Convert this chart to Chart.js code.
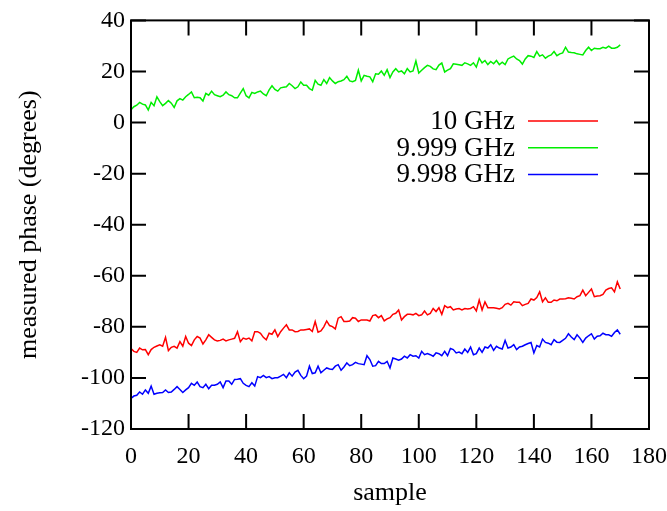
<!DOCTYPE html>
<html>
<head>
<meta charset="utf-8">
<script src="https://cdn.jsdelivr.net/npm/chart.js@4.4.1/dist/chart.umd.min.js"></script>
<style>
  html, body { margin: 0; padding: 0; background: #fff; }
  #wrap { width: 667px; height: 511px; }
</style>
</head>
<body>
<div id="wrap"><canvas id="phase-chart" width="667" height="511"></canvas></div>
<script>
// sample index 0..170 for every series
const samples = Array.from({ length: 171 }, (_, i) => i);

const phase10 = [
  -88.5, -89.6, -90.0, -88.3, -89.0, -88.9, -90.9, -88.9, -88.0, -87.5,
  -87.0, -87.6, -84.1, -89.3, -88.0, -87.6, -88.3, -85.8, -87.6, -83.8,
  -86.4, -87.3, -85.1, -83.8, -84.4, -86.7, -85.1, -83.1, -84.1, -85.1,
  -85.5, -85.3, -84.8, -85.5, -85.1, -84.8, -84.5, -81.9, -85.8, -84.4,
  -84.8, -84.4, -85.5, -81.9, -81.9, -82.5, -84.1, -85.1, -82.5, -82.9,
  -81.2, -83.8, -81.9, -80.5, -79.2, -81.2, -81.2, -81.9, -81.8, -81.2,
  -81.2, -81.0, -80.8, -81.8, -77.9, -82.1, -81.6, -80.0, -77.7, -79.5,
  -79.9, -80.8, -76.6, -76.0, -77.9, -77.9, -77.7, -76.4, -76.6, -77.9,
  -77.3, -77.3, -77.3, -77.7, -75.6, -75.3, -76.4, -75.6, -77.7, -76.9,
  -76.4, -75.1, -74.7, -73.4, -77.3, -76.0, -75.1, -75.1, -75.3, -74.7,
  -75.6, -75.3, -73.8, -75.3, -74.7, -72.8, -74.0, -72.5, -75.1, -71.7,
  -72.5, -72.1, -73.4, -73.0, -72.8, -73.4, -72.8, -73.0, -72.8, -72.1,
  -73.8, -69.5, -73.4, -70.2, -72.5, -72.5, -72.5, -72.7, -73.0, -72.5,
  -71.2, -70.8, -71.5, -70.2, -70.4, -70.4, -71.7, -71.2, -70.8, -69.1,
  -69.5, -68.5, -66.3, -70.2, -68.6, -70.4, -70.4, -69.5, -69.8, -69.1,
  -69.1, -69.0, -68.6, -68.8, -69.1, -68.2, -67.8, -65.6, -67.8, -66.5,
  -65.2, -68.2, -67.9, -67.8, -67.3, -65.6, -65.0, -64.7, -66.3, -62.4,
  -65.2
];

const phase9999 = [
  5.0, 6.2, 6.8, 7.9, 7.2, 6.9, 4.9, 7.9, 6.6, 10.1,
  8.2, 6.6, 7.5, 8.6, 7.6, 5.9, 8.5, 9.4, 8.8, 10.1,
  11.0, 12.0, 9.7, 9.9, 9.7, 8.4, 11.4, 10.7, 12.3, 10.9,
  10.5, 10.1, 10.7, 12.0, 10.9, 10.5, 9.7, 9.7, 11.5, 13.3,
  10.5, 9.7, 11.8, 11.4, 12.0, 12.3, 11.2, 10.5, 12.8, 14.4,
  13.0, 12.3, 13.6, 13.8, 14.0, 15.3, 14.4, 13.3, 14.0, 15.9,
  14.6, 14.6, 13.3, 12.7, 16.5, 15.0, 14.6, 16.8, 15.3, 17.6,
  16.3, 15.3, 16.0, 16.3, 16.8, 18.1, 16.3, 16.0, 16.5, 20.5,
  16.3, 18.5, 18.1, 17.9, 16.0, 19.1, 18.9, 20.2, 18.5, 20.7,
  17.6, 19.8, 21.1, 19.8, 20.2, 19.1, 21.1, 19.8, 20.2, 24.1,
  19.4, 20.5, 21.5, 22.4, 22.0, 21.0, 20.7, 22.5, 23.3, 19.8,
  20.5, 21.1, 23.0, 22.8, 22.6, 22.4, 23.4, 23.0, 22.4, 23.4,
  21.7, 25.2, 23.4, 24.3, 22.7, 23.9, 23.0, 24.3, 22.7, 23.6,
  22.7, 24.9, 25.5, 26.0, 24.9, 24.3, 22.9, 24.9, 26.2, 26.0,
  25.5, 27.8, 26.0, 26.5, 25.2, 26.0, 26.5, 27.8, 26.2, 26.9,
  27.3, 29.5, 27.6, 27.4, 27.3, 26.9, 26.7, 26.5, 28.2, 29.5,
  28.2, 29.1, 28.9, 28.9, 29.5, 29.1, 29.9, 29.1, 29.1, 29.5,
  30.4
];

const phase9998 = [
  -108.0, -107.1, -106.8, -105.5, -106.4, -104.7, -106.0, -103.2, -106.4, -106.0,
  -105.8, -105.7, -104.7, -105.7, -105.5, -104.5, -103.4, -104.5, -105.7, -104.7,
  -103.8, -102.1, -102.9, -101.6, -103.4, -103.8, -102.5, -104.2, -102.9, -102.9,
  -102.5, -101.6, -103.8, -101.2, -101.2, -102.5, -100.6, -100.5, -100.3, -102.1,
  -102.9, -103.4, -101.9, -103.2, -99.5, -99.9, -99.0, -99.9, -99.5, -100.3,
  -99.9, -99.9, -99.3, -98.6, -99.9, -98.0, -99.3, -97.7, -97.0, -99.0,
  -100.3, -99.3, -95.4, -98.3, -98.0, -95.4, -98.0, -97.0, -96.1, -96.5,
  -96.7, -95.4, -94.8, -97.0, -95.7, -94.1, -95.2, -94.8, -93.9, -94.4,
  -94.6, -94.8, -91.3, -92.8, -95.4, -95.2, -93.5, -94.4, -94.4, -93.5,
  -96.1, -92.2, -92.6, -93.1, -92.6, -91.5, -92.2, -90.9, -91.5, -91.3,
  -92.2, -89.6, -90.9, -90.5, -90.9, -91.5, -90.2, -90.5, -91.3, -89.6,
  -91.3, -88.5, -88.9, -90.2, -89.9, -90.5, -88.7, -90.0, -87.9, -90.9,
  -90.5, -88.3, -90.0, -87.9, -88.3, -87.0, -89.2, -87.6, -88.3, -88.7,
  -85.3, -88.3, -87.9, -87.0, -88.9, -87.9, -87.6, -87.0, -86.5, -86.1,
  -90.2, -87.3, -87.9, -84.8, -86.1, -86.4, -87.0, -85.0, -86.0, -86.1,
  -85.3, -84.5, -82.7, -84.0, -85.0, -83.1, -84.4, -86.1, -84.4, -83.5,
  -82.7, -84.8, -83.7, -83.5, -82.5, -83.1, -83.1, -83.7, -82.2, -81.2,
  -82.9
];

const seriesNames = ['10 GHz', '9.999 GHz', '9.998 GHz'];
const xTicks = [0, 20, 40, 60, 80, 100, 120, 140, 160, 180];
const yTicks = [-120, -100, -80, -60, -40, -20, 0, 20, 40];

const FONT = "'Liberation Serif', 'Times New Roman', serif";
Chart.defaults.font.family = FONT;
Chart.defaults.font.size = 24;
Chart.defaults.color = '#000';

function points(values) {
    return samples.map((s, i) => ({ x: s, y: values[i] }));
}

// gnuplot style box with inward ticks on all four sides
const framePlugin = {
    id: 'frame',
    afterDraw(chart) {
        const { ctx, chartArea: a, scales: { x, y } } = chart;
        const len = 15;
        ctx.save();
        ctx.strokeStyle = '#000';
        ctx.lineWidth = 2;
        ctx.beginPath();
        x.ticks.forEach(t => {
            const px = x.getPixelForValue(t.value);
            ctx.moveTo(px, a.bottom); ctx.lineTo(px, a.bottom - len);
            ctx.moveTo(px, a.top); ctx.lineTo(px, a.top + len);
        });
        y.ticks.forEach(t => {
            const py = y.getPixelForValue(t.value);
            ctx.moveTo(a.left, py); ctx.lineTo(a.left + len, py);
            ctx.moveTo(a.right, py); ctx.lineTo(a.right - len, py);
        });
        ctx.stroke();
        ctx.strokeRect(a.left, a.top, a.right - a.left, a.bottom - a.top);
        ctx.restore();
    }
};

// key: right aligned text followed by a line sample
const keyPlugin = {
    id: 'key',
    afterDatasetsDraw(chart) {
        const ctx = chart.ctx;
        ctx.save();
        ctx.font = '27px ' + FONT;
        ctx.textAlign = 'right';
        ctx.textBaseline = 'middle';
        chart.data.datasets.forEach((ds, i) => {
            const yy = 121 + i * 26.7;
            ctx.fillStyle = '#000';
            ctx.fillText(ds.label, 515, yy + 1);
            ctx.strokeStyle = ds.borderColor;
            ctx.lineWidth = 1.5;
            ctx.beginPath();
            ctx.moveTo(528, yy);
            ctx.lineTo(598, yy);
            ctx.stroke();
        });
        ctx.restore();
    }
};

const ctx = document.getElementById('phase-chart').getContext('2d');
new Chart(ctx, {
    type: 'line',
    data: {
        datasets: [
            { label: seriesNames[0], data: points(phase10), borderColor: '#ff0000' },
            { label: seriesNames[1], data: points(phase9999), borderColor: '#00ee00' },
            { label: seriesNames[2], data: points(phase9998), borderColor: '#0000ff' }
        ]
    },
    options: {
        responsive: false,
        animation: false,
        devicePixelRatio: 1,
        layout: { padding: { top: 18, right: 0, left: 0, bottom: 0 } },
        elements: {
            line: { borderWidth: 1.5, tension: 0, fill: false },
            point: { radius: 0 }
        },
        plugins: {
            legend: { display: false },
            tooltip: { enabled: false }
        },
        scales: {
            x: {
                type: 'linear',
                min: 0,
                max: 180,
                afterBuildTicks: scale => { scale.ticks = xTicks.map(v => ({ value: v })); },
                afterFit: scale => {
                    scale.height = 82;
                    scale.paddingLeft = 0;
                    scale.paddingRight = 18;
                },
                grid: { display: false, drawTicks: false },
                border: { display: false },
                ticks: { padding: 13, maxRotation: 0, autoSkip: false },
                title: { display: true, text: 'sample', font: { size: 26 }, padding: { top: 0, bottom: 2 } }
            },
            y: {
                type: 'linear',
                min: -120,
                max: 40,
                afterBuildTicks: scale => { scale.ticks = yTicks.map(v => ({ value: v })); },
                afterFit: scale => { scale.width = 131; },
                grid: { display: false, drawTicks: false },
                border: { display: false },
                ticks: { padding: 6, autoSkip: false },
                title: { display: true, text: 'measured phase (degrees)', font: { size: 26 }, padding: { top: 14, bottom: 0 } }
            }
        }
    },
    plugins: [framePlugin, keyPlugin]
});
</script>
</body>
</html>
